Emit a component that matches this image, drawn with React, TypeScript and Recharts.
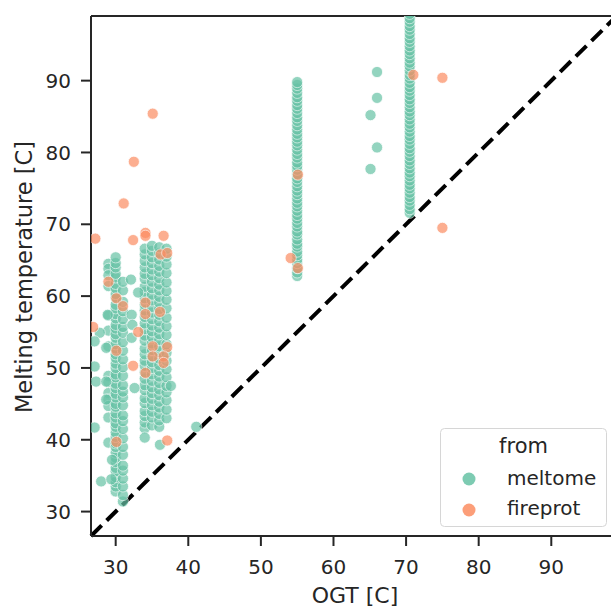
import { ScatterChart, Scatter, XAxis, YAxis, ReferenceLine, Legend, Label } from "recharts";

const OGT_TICKS = [30, 40, 50, 60, 70, 80, 90];
const TM_TICKS = [30, 40, 50, 60, 70, 80, 90];

// meltome: colunas de pontos com a mesma OGT (valores de Tm)
const MELTOME_29 = [64.5, 63.8, 62.9, 61.4, 57.3, 55.2, 53.0, 48.9, 48.0, 46.5, 45.6, 44.7, 43.1, 39.6];
const MELTOME_30 = [
  32.8, 33.5, 34.1, 34.8, 35.6, 36.1, 36.9, 37.5, 38.2, 39.0, 39.5, 40.4, 41.0, 41.8, 42.3, 43.1,
  43.7, 44.6, 45.0, 45.9, 46.4, 47.2, 47.8, 48.7, 49.1, 50.0, 50.6, 51.4, 51.9, 52.7, 53.3, 54.2,
  54.7, 55.5, 56.0, 56.9, 57.5, 58.3, 58.8, 59.8, 60.3, 61.1, 61.7, 62.6, 63.1, 64.0, 64.6, 65.4,
];
const MELTOME_31 = [
  31.4, 32.3, 33.5, 34.6, 35.7, 36.4, 37.9, 39.0, 40.2, 41.5, 42.6, 43.4, 44.8, 45.9, 46.7, 47.6,
  48.9, 50.1, 51.2, 52.4, 53.6, 54.9, 55.7, 56.8, 57.9, 59.2, 60.8, 62.0,
];
const MELTOME_34 = [
  41.6, 42.4, 43.3, 44.0, 45.1, 45.8, 46.9, 47.6, 48.5, 49.4, 50.3, 51.0, 51.9, 52.7, 53.8, 54.5,
  55.4, 56.2, 57.1, 58.0, 58.8, 59.7, 60.6, 61.3, 62.4, 63.1, 64.0, 64.9, 65.8, 66.6,
];
const MELTOME_35 = [
  42.0, 43.1, 43.9, 44.8, 45.7, 46.5, 47.3, 48.2, 49.1, 50.0, 50.8, 51.6, 52.5, 53.4, 54.3, 55.1,
  55.9, 56.8, 57.7, 58.5, 59.4, 60.2, 61.1, 62.0, 62.9, 63.7, 64.6, 65.4, 66.3, 67.0,
];
const MELTOME_36 = [
  41.8, 42.7, 43.6, 44.5, 45.3, 46.2, 47.0, 47.9, 48.8, 49.6, 50.4, 51.3, 52.2, 53.0, 53.9, 54.7,
  55.6, 56.5, 57.4, 58.2, 59.1, 59.9, 60.8, 61.6, 62.5, 63.4, 64.2, 65.1, 66.0, 66.8,
];
const MELTOME_37 = [
  43.0, 44.2, 45.5, 46.6, 47.5, 48.7, 49.8, 51.0, 52.1, 53.3, 54.6, 55.8, 57.0, 58.3, 59.5, 60.7,
  61.9, 63.2, 64.4, 65.5, 66.6,
];
const MELTOME_55 = [
  62.8, 63.3, 63.9, 64.6, 65.1, 65.7, 66.2, 66.9, 67.3, 67.9, 68.6, 69.0, 69.7, 70.2, 70.8, 71.3,
  71.9, 72.5, 73.0, 73.6, 74.2, 74.7, 75.3, 75.9, 76.4, 77.0, 77.6, 78.1, 78.6, 79.3, 79.8, 80.4,
  81.0, 81.5, 82.1, 82.6, 83.2, 83.8, 84.4, 84.9, 85.5, 86.1, 86.6, 87.2, 87.7, 88.3, 88.9, 89.4,
  89.8,
];
const MELTOME_70_5 = [
  71.6, 72.1, 72.7, 73.3, 73.8, 74.4, 75.0, 75.5, 76.1, 76.7, 77.2, 77.8, 78.4, 78.9, 79.5, 80.1,
  80.6, 81.2, 81.8, 82.3, 82.9, 83.5, 84.0, 84.6, 85.2, 85.7, 86.3, 86.9, 87.4, 88.0, 88.6, 89.1,
  89.7, 90.3, 90.8, 91.4, 92.0, 92.5, 93.1, 93.7, 94.2, 94.8, 95.4, 95.9, 96.5, 97.1, 97.6, 98.2,
  98.7, 99.3,
];
const MELTOME_COLUNAS: [number, number[]][] = [
  [29, MELTOME_29],
  [30, MELTOME_30],
  [31, MELTOME_31],
  [34, MELTOME_34],
  [35, MELTOME_35],
  [36, MELTOME_36],
  [37, MELTOME_37],
  [55, MELTOME_55],
  [70.5, MELTOME_70_5],
];
// meltome: pontos soltos [OGT, Tm]
const MELTOME_SOLTOS: [number, number][] = [
  [27.1, 41.7], [28.0, 34.2], [27.3, 48.1], [27.1, 50.2], [27.8, 54.9], [27.1, 53.7],
  [28.7, 52.8], [28.7, 48.1], [28.7, 45.6], [28.9, 57.4], [32.2, 54.2], [32.6, 47.2],
  [32.1, 62.3], [33.1, 60.5], [32.2, 57.4], [32.3, 56.0], [34.0, 40.3], [36.1, 39.3],
  [41.1, 41.8], [66.0, 91.2], [66.0, 87.6], [65.1, 85.2], [66.0, 80.7], [65.1, 77.7],
  [37.6, 47.5], [29.5, 37.2], [29.4, 34.5],
];
// fireprot [OGT, Tm]
const FIREPROT: [number, number][] = [
  [27.2, 68.0], [26.9, 55.7], [29.0, 62.0], [30.1, 59.7], [31.0, 58.6], [31.1, 72.9],
  [32.5, 78.7], [32.4, 67.8], [35.1, 85.4], [34.1, 68.8], [34.1, 68.4], [36.6, 68.4],
  [36.2, 65.8], [37.1, 66.0], [34.1, 59.1], [34.1, 57.5], [36.1, 57.8], [33.1, 55.0],
  [30.1, 52.4], [35.1, 53.0], [37.1, 52.9], [35.1, 51.6], [36.6, 51.6], [36.6, 50.7],
  [32.4, 50.3], [34.1, 49.3], [30.1, 39.7], [37.1, 39.9], [55.1, 76.9], [54.1, 65.3],
  [55.1, 63.9], [71.0, 90.8], [75.0, 90.4], [75.0, 69.5],
];

const COR_MELTOME = "#66c2a5";
const COR_FIREPROT = "#fc8d62";
const COR_TEXTO = "#262626";
const FONTE = "'DejaVu Sans', sans-serif";

const dadosMeltome = [
  ...MELTOME_COLUNAS.flatMap(([ogt, tms]) => tms.map((tm) => ({ ogt, tm }))),
  ...MELTOME_SOLTOS.map(([ogt, tm]) => ({ ogt, tm })),
];
const dadosFireprot = FIREPROT.map(([ogt, tm]) => ({ ogt, tm }));

function ponto(cor: string) {
  return (props: any) => (
    <circle cx={props.cx} cy={props.cy} r={5.6} fill={cor} stroke="#fff" strokeWidth={0.8} opacity={0.7} />
  );
}

function Legenda() {
  return (
    <svg width={167} height={99} style={{ display: "block" }}>
      <rect x={0.5} y={0.5} width={166} height={98} rx={4} fill="#fff" fillOpacity={0.8} stroke="#d6d6d6" />
      <text x={83.5} y={25} textAnchor="middle" fontSize={21} fill={COR_TEXTO} fontFamily={FONTE}>
        from
      </text>
      <circle cx={29} cy={51} r={6.5} fill={COR_MELTOME} opacity={0.85} />
      <text x={67} y={57} fontSize={20} fill={COR_TEXTO} fontFamily={FONTE}>
        meltome
      </text>
      <circle cx={29} cy={82} r={6.5} fill={COR_FIREPROT} opacity={0.85} />
      <text x={67} y={87} fontSize={20} fill={COR_TEXTO} fontFamily={FONTE}>
        fireprot
      </text>
    </svg>
  );
}

export default function App() {
  const eixo = { stroke: COR_TEXTO, strokeWidth: 2 };
  const tick = { fontSize: 20, fill: COR_TEXTO, fontFamily: FONTE };
  return (
    <div style={{ position: "absolute", left: 0, top: 0, background: "#fff" }}>
      <ScatterChart width={620} height={608} margin={{ top: 16, right: 7, bottom: 0, left: 0 }}>
        <XAxis
          type="number"
          dataKey="ogt"
          domain={[26.6, 98.5]}
          ticks={OGT_TICKS}
          allowDataOverflow
          height={72}
          axisLine={eixo}
          tickLine={eixo}
          tickSize={10}
          tickMargin={14}
          tick={tick}
        >
          <Label
            content={() => (
              <text x={355} y={603} textAnchor="middle" fontSize={22} fill={COR_TEXTO} fontFamily={FONTE}>
                OGT [C]
              </text>
            )}
          />
        </XAxis>
        <YAxis
          type="number"
          dataKey="tm"
          domain={[26.6, 99]}
          ticks={TM_TICKS}
          allowDataOverflow
          width={91}
          axisLine={eixo}
          tickLine={eixo}
          tickSize={10}
          tickMargin={10}
          tick={tick}
        >
          <Label
            content={() => (
              <text
                x={32}
                y={277}
                transform="rotate(-90 32 277)"
                textAnchor="middle"
                fontSize={22.5}
                fill={COR_TEXTO}
                fontFamily={FONTE}
              >
                Melting temperature [C]
              </text>
            )}
          />
        </YAxis>
        <Scatter name="meltome" data={dadosMeltome} shape={ponto(COR_MELTOME)} isAnimationActive={false} />
        <Scatter name="fireprot" data={dadosFireprot} shape={ponto(COR_FIREPROT)} isAnimationActive={false} />
        <ReferenceLine
          segment={[
            { x: 26.6, y: 26.6 },
            { x: 98.5, y: 98.5 },
          ]}
          stroke="#000"
          strokeWidth={4}
          strokeDasharray="15 7"
        />
        <ReferenceLine y={99} stroke={COR_TEXTO} strokeWidth={2} />
        <Legend
          layout="vertical"
          align="center"
          verticalAlign="middle"
          wrapperStyle={{ left: 440, top: 428, width: 167, height: 99 }}
          content={() => <Legenda />}
        />
      </ScatterChart>
    </div>
  );
}
